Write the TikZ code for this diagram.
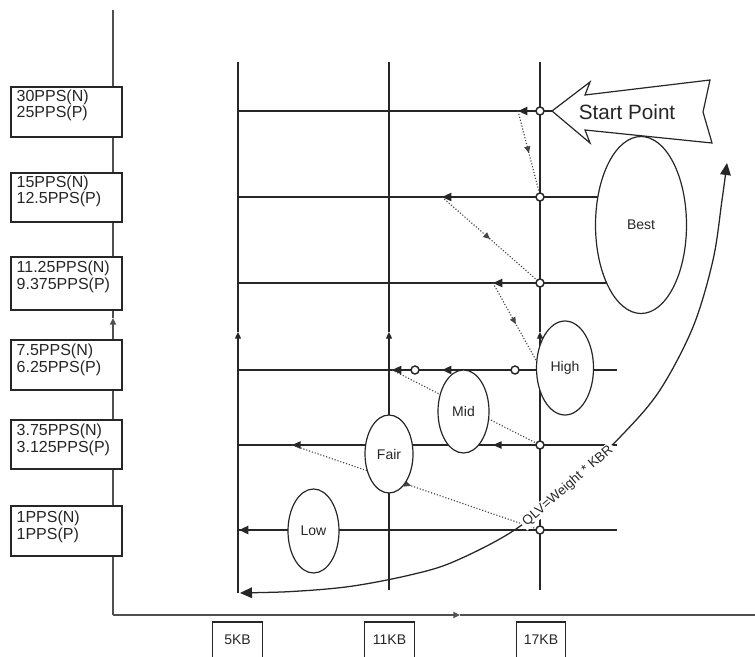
\documentclass[tikz,border=0pt]{standalone}
\usepackage{fontspec}
\setmainfont{Liberation Sans}
\usetikzlibrary{arrows.meta,shapes.geometric,decorations.markings}
\pgfdeclarelayer{bg}
\pgfsetlayers{bg,main}
\definecolor{ink}{HTML}{262626}
\definecolor{axisc}{HTML}{505050}
\definecolor{dotc}{HTML}{444444}
\newcommand\ratefont{\fontsize{12}{12.5}\selectfont}
\newcommand\ovalfont{\fontsize{10.5}{12}\selectfont}
\newcommand\kbfont{\fontsize{10.5}{12}\selectfont}
\newcommand\qlvfont{\fontsize{10}{12}\selectfont}
\newcommand\startfont{\fontsize{15.5}{18}\selectfont}
\begin{document}
\begin{tikzpicture}[x=0.75pt,y=-0.75pt,
  gridline/.style={draw=ink,line width=0.95pt},
  axisline/.style={draw=axisc,line width=1.4pt},
  smalltip/.style={-{Triangle[length=5pt,width=4.5pt]}},
  thickarrow/.style={draw=ink,line width=2.1pt,-{Triangle[length=7pt,width=6pt]}},
  thinarrow/.style={draw=ink,line width=1.2pt,-{Triangle[length=6.5pt,width=5.5pt]}},
  dotline/.style={draw=dotc,line width=0.85pt,dash pattern=on 0.85pt off 1.4pt},
  dotarrow/.style={dotline,postaction={decorate},decoration={markings,mark=at position #1 with {\arrow[solid]{Triangle[length=5pt,width=4.5pt]}}}},
  oval/.style={ellipse,draw=ink,line width=0.9pt,fill=white,inner sep=0pt,font=\ovalfont,text=ink},
  ring/.style={circle,draw=ink,line width=1.1pt,fill=white,inner sep=0pt,minimum size=6pt},
  ratebox/.style={rectangle,draw=ink,line width=0.9pt,fill=white,inner sep=0pt,minimum width=83.25pt},
  ratetext/.style={anchor=north west,align=left,inner sep=0pt,font=\ratefont,text=ink},
  kbbox/.style={rectangle,draw=ink,line width=0.9pt,fill=white,inner sep=0pt,minimum width=37pt,minimum height=36pt},
  kbtext/.style={inner sep=0pt,font=\kbfont,text=ink},
  shapeline/.style={draw=ink,line width=0.9pt,fill=white,line join=miter},
  curveline/.style={draw=ink,line width=0.95pt,{Triangle[length=9pt,width=8pt]}-{Triangle[length=9pt,width=8pt]}},
  qlvlabel/.style={fill=white,inner xsep=2pt,inner ysep=0.5pt,font=\qlvfont,text=ink},
  starttext/.style={inner sep=0pt,font=\startfont,text=ink}
]
\useasboundingbox (0,0) rectangle (755,656);
\clip (0,0) rectangle (755,656);

% ---------- coordinates ----------
\coordinate (ax0) at (113,615);
\coordinate (axm) at (113,318);
\coordinate (axt) at (113,10);
\coordinate (axh) at (460,615);
\coordinate (axr) at (758,615);

\coordinate (t5) at (238,62);  \coordinate (m5) at (238,332);  \coordinate (b5) at (238,593);
\coordinate (t11) at (389,62); \coordinate (m11) at (389,332); \coordinate (b11) at (389,590);
\coordinate (t17) at (540,62); \coordinate (m17) at (540,332); \coordinate (b17) at (540,590);

\coordinate (L1) at (238,111); \coordinate (R1) at (552,111);
\coordinate (L2) at (238,197); \coordinate (R2) at (641,197);
\coordinate (L3) at (238,283); \coordinate (R3) at (641,283);
\coordinate (L4) at (238,370); \coordinate (R4) at (617,370);
\coordinate (L5) at (238,445); \coordinate (R5) at (617,445);
\coordinate (L6) at (238,530); \coordinate (R6) at (617,530);

\coordinate (a1) at (518,111);
\coordinate (a2) at (442,197);
\coordinate (a3) at (493,283);
\coordinate (a4a) at (442,370);
\coordinate (a4b) at (392,370);
\coordinate (a5a) at (493,445);
\coordinate (a5b) at (292,445);
\coordinate (f5) at (389,445);
\coordinate (s6) at (520,530);
\coordinate (a6) at (239,530);

\coordinate (e1) at (539,192);
\coordinate (e2) at (538,281);
\coordinate (e3) at (537,362);

% ---------- ellipses ----------
\node[oval,minimum width=68.25pt,minimum height=132.75pt] (best) at (641,225) {Best};
\node[oval,minimum width=42.75pt,minimum height=70.5pt] (high) at (565,368) {High};
\node[oval,minimum width=38.25pt,minimum height=62.25pt] (mid) at (463.5,411.5) {Mid};
\node[oval,minimum width=36pt,minimum height=58.5pt] (fair) at (389,454) {Fair};
\node[oval,minimum width=38.25pt,minimum height=63pt] (low) at (313.5,531) {Low};

% ---------- rings ----------
\node[ring] (c1) at (540,111) {};
\node[ring] (c2) at (540,197) {};
\node[ring] (c3) at (540,283) {};
\node[ring] (c4a) at (515,370) {};
\node[ring] (c4b) at (415,370) {};
\node[ring] (c5) at (540,445) {};
\node[ring] (c6) at (540,530) {};

% ---------- rate boxes ----------
\node[ratebox,minimum height=37.5pt] (r1) at (66.5,112) {};
\node[ratebox,minimum height=36.75pt] (r2) at (66.5,197.5) {};
\node[ratebox,minimum height=39.75pt] (r3) at (66.5,283.5) {};
\node[ratebox,minimum height=37.5pt] (r4) at (66.5,365) {};
\node[ratebox,minimum height=36.75pt] (r5) at (66.5,444.5) {};
\node[ratebox,minimum height=37.5pt] (r6) at (66.5,531) {};
\node[ratetext] (r1t) at ([shift={(6,3)}]r1.north west) {30PPS(N)\\25PPS(P)};
\node[ratetext] (r2t) at ([shift={(6,3)}]r2.north west) {15PPS(N)\\12.5PPS(P)};
\node[ratetext] (r3t) at ([shift={(6,4.5)}]r3.north west) {11.25PPS(N)\\9.375PPS(P)};
\node[ratetext] (r4t) at ([shift={(6,4.5)}]r4.north west) {7.5PPS(N)\\6.25PPS(P)};
\node[ratetext] (r5t) at ([shift={(6,4.5)}]r5.north west) {3.75PPS(N)\\3.125PPS(P)};
\node[ratetext] (r6t) at ([shift={(6,5.5)}]r6.north west) {1PPS(N)\\1PPS(P)};

% ---------- KB boxes ----------
\node[kbbox] (k5) at (237.5,646) {};
\node[kbbox] (k11) at (389.5,646) {};
\node[kbbox] (k17) at (541,646) {};
\node[kbtext] (k5t) at (237.5,640) {5KB};
\node[kbtext] (k11t) at (389.5,640) {11KB};
\node[kbtext] (k17t) at (541,640) {17KB};

% ---------- QLV curve ----------
\coordinate (qa) at (240,593);
\coordinate (qb) at (727,163);
\draw[curveline] plot[smooth,tension=0.55] coordinates {(qa) (300,591) (353,586) (410,575) (453,562) (513,531) (568,487) (623,434) (660,390) (693,327) (713,260) (722,200) (qb)};
\node[qlvlabel,rotate=41] (qlv) at (568,486) {QLV=Weight * KBR};

% ---------- Start Point arrow ----------
\coordinate (sp0) at (552,111);
\coordinate (sp1) at (590,82);
\coordinate (sp2) at (585,95);
\coordinate (sp3) at (710,80);
\coordinate (sp4) at (703,112);
\coordinate (sp5) at (712,143);
\coordinate (sp6) at (585,130);
\coordinate (sp7) at (590,143);
\draw[shapeline] (sp0) -- (sp1) -- (sp2) -- (sp3) -- (sp4) -- (sp5) -- (sp6) -- (sp7) -- cycle;
\node[starttext] (spt) at (627,112) {Start Point};

% ---------- background lines ----------
\begin{pgfonlayer}{bg}
\draw[axisline,smalltip] (ax0) -- (axm);
\draw[axisline] (axm) -- (axt);
\draw[axisline,smalltip] (ax0) -- (axh);
\draw[axisline] (axh) -- (axr);
\foreach \n in {5,11,17} {
  \draw[gridline,smalltip] (b\n) -- (m\n);
  \draw[gridline] (m\n) -- (t\n);
}
\foreach \i in {1,...,6} {\draw[gridline] (L\i) -- (R\i);}
\draw[thickarrow] (c1.center) -- (a1);
\draw[thickarrow] (c2.center) -- (a2);
\draw[thickarrow] (c3.center) -- (a3);
\draw[thickarrow] (c4a.center) -- (a4a);
\draw[thickarrow] (c4b.center) -- (a4b);
\draw[thinarrow] (c5.center) -- (a5a);
\draw[thinarrow] (f5) -- (a5b);
\draw[thickarrow] (s6) -- (a6);
\draw[dotarrow=0.52] (a1) -- (e1);
\draw[dotarrow=0.5] (a2) -- (e2);
\draw[dotarrow=0.52] (a3) -- (e3);
\draw[dotline] (a4b) -- (c5.center);
\draw[dotarrow=0.48] (a5b) -- (c6.center);
\end{pgfonlayer}
\end{tikzpicture}
\end{document}
